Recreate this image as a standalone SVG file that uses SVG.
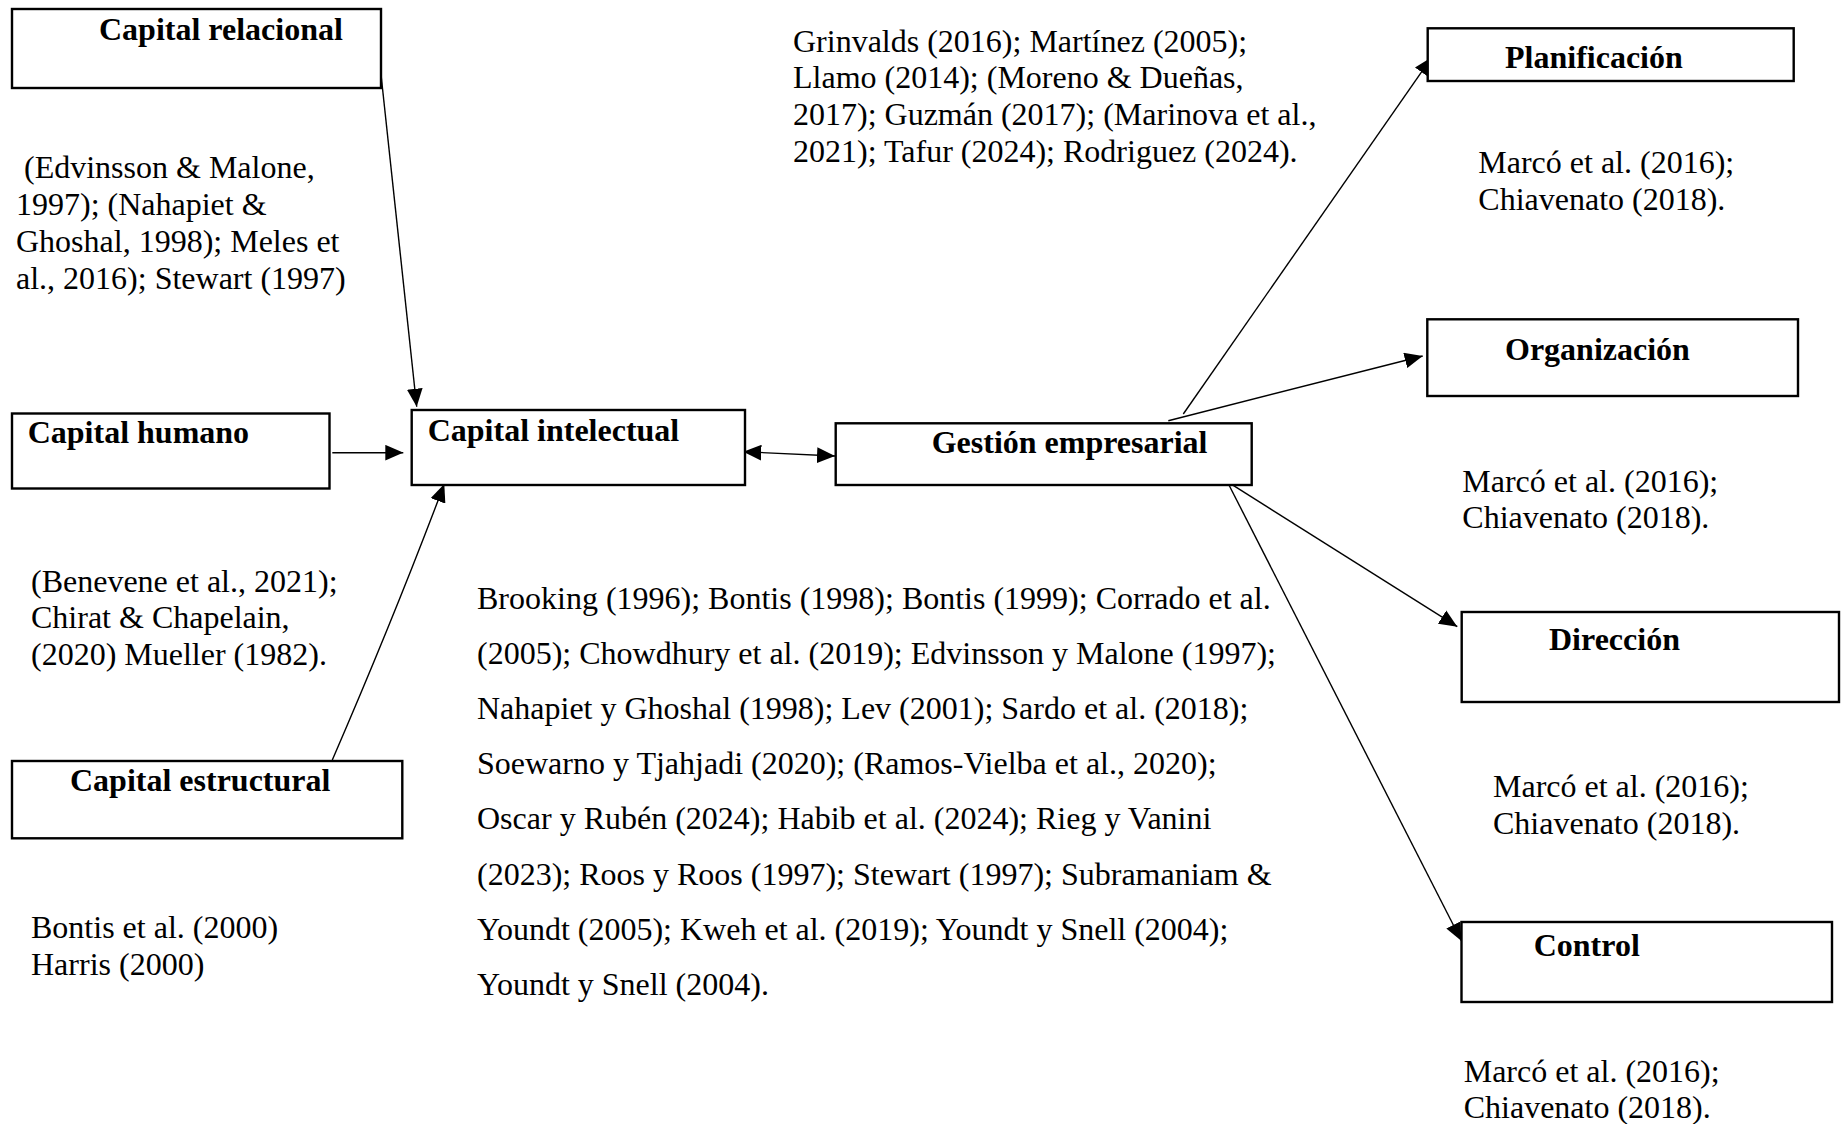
<svg xmlns="http://www.w3.org/2000/svg" width="1847" height="1124" viewBox="0 0 1847 1124">
<style>
text { font-family: "Liberation Serif", "Times New Roman", serif; font-size: 32px; fill: #000; }
.t { font-weight: bold; }
.box { fill: #fff; stroke: #000; stroke-width: 2.4; }
.con { stroke: #000; stroke-width: 1.4; fill: none; marker-end: url(#ah); }
</style>
<defs>
<marker id="ah" markerUnits="userSpaceOnUse" markerWidth="18" markerHeight="16" refX="16" refY="7" orient="auto-start-reverse" viewBox="0 0 16 14">
<path d="M0,0 L16,7 L0,14 z" fill="#000"/>
</marker>
</defs>
<rect width="1847" height="1124" fill="#fff"/>

<g id="connectors">
<line class="con" x1="378.3" y1="49.3" x2="416.7" y2="406.7"/>
<line class="con" x1="332.3" y1="452.7" x2="403.3" y2="452.7"/>
<path class="con" d="M332.3,760 Q395,615 444.3,484"/>
<line class="con" x1="743.3" y1="451.7" x2="835" y2="456" marker-start="url(#ah)"/>
<line class="con" x1="1183.3" y1="414" x2="1431.7" y2="57.3"/>
<line class="con" x1="1168.3" y1="420.7" x2="1422.7" y2="356"/>
<line class="con" x1="1227.3" y1="481.7" x2="1457.3" y2="626.7"/>
<line class="con" x1="1227.3" y1="481.7" x2="1461.5" y2="941"/>
</g>

<g id="capital-relacional">
<rect class="box" x="12" y="9" width="369" height="79"/>
<text class="t" x="99" y="40">Capital relacional</text>
</g>
<g id="ref-relacional">
<text x="16" y="178" xml:space="preserve"> (Edvinsson &amp; Malone,</text>
<text x="16" y="215">1997); (Nahapiet &amp;</text>
<text x="16" y="252">Ghoshal, 1998); Meles et</text>
<text x="16" y="289">al., 2016); Stewart (1997)</text>
</g>

<g id="capital-humano">
<rect class="box" x="12" y="413.5" width="317.5" height="75"/>
<text class="t" x="27.7" y="443.3">Capital humano</text>
</g>
<g id="ref-humano">
<text x="31" y="591.7">(Benevene et al., 2021);</text>
<text x="31" y="628.3">Chirat &amp; Chapelain,</text>
<text x="31" y="665">(2020) Mueller (1982).</text>
</g>

<g id="capital-estructural">
<rect class="box" x="12" y="761" width="390.3" height="77.3"/>
<text class="t" x="70" y="790.7">Capital estructural</text>
</g>
<g id="ref-estructural">
<text x="31" y="938.3">Bontis et al. (2000)</text>
<text x="31" y="975">Harris (2000)</text>
</g>

<g id="capital-intelectual">
<rect class="box" x="411.7" y="410" width="333.3" height="75"/>
<text class="t" x="427.7" y="440.5">Capital intelectual</text>
</g>
<g id="ref-intelectual">
<text x="477" y="608.5">Brooking (1996); Bontis (1998); Bontis (1999); Corrado et al.</text>
<text x="477" y="663.7">(2005); Chowdhury et al. (2019); Edvinsson y Malone (1997);</text>
<text x="477" y="718.9">Nahapiet y Ghoshal (1998); Lev (2001); Sardo et al. (2018);</text>
<text x="477" y="774.1">Soewarno y Tjahjadi (2020); (Ramos-Vielba et al., 2020);</text>
<text x="477" y="829.3">Oscar y Rubén (2024); Habib et al. (2024); Rieg y Vanini</text>
<text x="477" y="884.5">(2023); Roos y Roos (1997); Stewart (1997); Subramaniam &amp;</text>
<text x="477" y="939.7">Youndt (2005); Kweh et al. (2019); Youndt y Snell (2004);</text>
<text x="477" y="994.9">Youndt y Snell (2004).</text>
</g>

<g id="gestion-empresarial">
<rect class="box" x="835.7" y="423.3" width="416" height="61.7"/>
<text class="t" x="931.7" y="452.7">Gestión empresarial</text>
</g>
<g id="ref-gestion">
<text x="793" y="51.7">Grinvalds (2016); Martínez (2005);</text>
<text x="793" y="88.3">Llamo (2014); (Moreno &amp; Dueñas,</text>
<text x="793" y="125">2017); Guzmán (2017); (Marinova et al.,</text>
<text x="793" y="161.7">2021); Tafur (2024); Rodriguez (2024).</text>
</g>

<g id="planificacion">
<rect class="box" x="1427.7" y="28.3" width="366" height="52.7"/>
<text class="t" x="1505" y="68">Planificación</text>
</g>
<g id="ref-planificacion">
<text x="1478.3" y="173.3">Marcó et al. (2016);</text>
<text x="1478.3" y="210">Chiavenato (2018).</text>
</g>

<g id="organizacion">
<rect class="box" x="1427.3" y="319.3" width="370.7" height="76.7"/>
<text class="t" x="1505" y="360">Organización</text>
</g>
<g id="ref-organizacion">
<text x="1462.3" y="491.7">Marcó et al. (2016);</text>
<text x="1462.3" y="528.3">Chiavenato (2018).</text>
</g>

<g id="direccion">
<rect class="box" x="1461.7" y="612" width="377.3" height="90"/>
<text class="t" x="1549" y="650">Dirección</text>
</g>
<g id="ref-direccion">
<text x="1493" y="797">Marcó et al. (2016);</text>
<text x="1493" y="834">Chiavenato (2018).</text>
</g>

<g id="control">
<rect class="box" x="1461.5" y="922" width="370.5" height="80"/>
<text class="t" x="1533.7" y="955.5">Control</text>
</g>
<g id="ref-control">
<text x="1463.7" y="1082">Marcó et al. (2016);</text>
<text x="1463.7" y="1118">Chiavenato (2018).</text>
</g>
</svg>
